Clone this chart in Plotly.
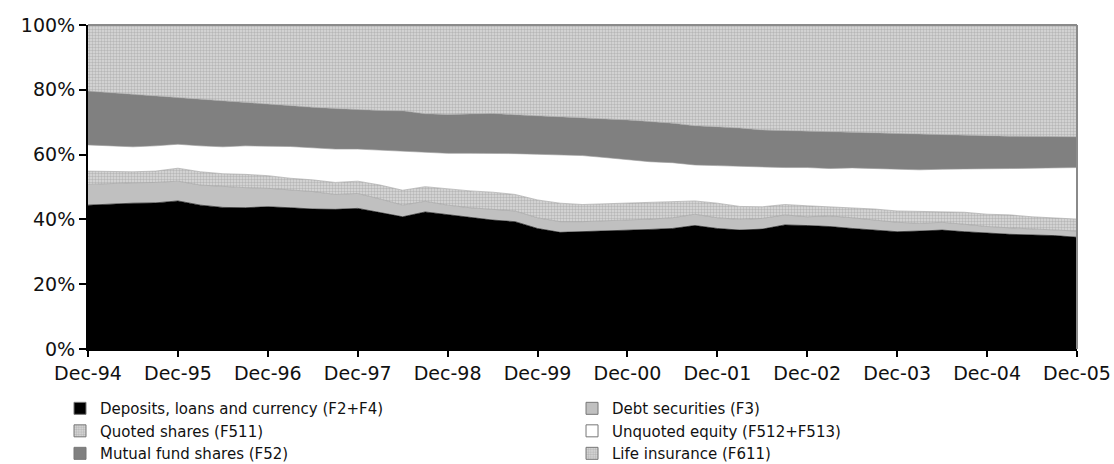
import plotly.graph_objects as go

# Quarterly observations, Dec-94 .. Dec-05
quarters = ["Dec-94"]
for yr in range(95, 106):
    for m in ["Mar", "Jun", "Sep", "Dec"]:
        quarters.append(f"{m}-{yr % 100:02d}")

tick_labels = ["Dec-94", "Dec-95", "Dec-96", "Dec-97", "Dec-98", "Dec-99",
               "Dec-00", "Dec-01", "Dec-02", "Dec-03", "Dec-04", "Dec-05"]
y_ticks = [0, 20, 40, 60, 80, 100]
y_tick_text = ["0%", "20%", "40%", "60%", "80%", "100%"]

deposits = [44.4, 44.8, 45.0, 45.1, 45.7, 44.4, 43.7, 43.6, 43.9, 43.6, 43.2, 43.1,
            43.4, 42.1, 40.8, 42.3, 41.4, 40.5, 39.8, 39.3, 37.2, 36.0, 36.2, 36.4,
            36.5, 36.9, 37.2, 38.1, 37.2, 36.7, 37.0, 38.3, 38.1, 37.8, 37.2, 36.7,
            36.2, 36.4, 36.7, 36.2, 35.7, 35.4, 35.2, 35.0, 34.5]
debt = [6.4, 6.3, 6.3, 6.3, 6.1, 6.2, 6.4, 6.2, 5.7, 5.4, 5.4, 4.6,
        4.6, 4.2, 3.6, 3.3, 3.0, 3.1, 3.4, 3.3, 3.3, 3.3, 3.1, 3.1,
        3.2, 3.2, 3.3, 3.5, 3.3, 3.3, 3.3, 3.1, 2.7, 3.3, 3.3, 3.1,
        2.9, 2.4, 2.4, 2.3, 2.1, 2.0, 1.8, 1.7, 1.9]
quoted = [4.1, 3.6, 3.4, 3.5, 4.0, 4.1, 4.0, 4.1, 3.9, 3.7, 3.6, 3.7,
          3.8, 4.3, 4.6, 4.5, 5.0, 5.2, 5.2, 5.1, 5.5, 5.7, 5.3, 5.3,
          5.4, 5.1, 4.8, 4.1, 4.5, 4.0, 3.6, 3.2, 3.4, 2.8, 3.1, 3.4,
          3.5, 3.6, 3.3, 3.7, 3.8, 4.0, 3.8, 3.8, 3.7]
unquoted = [8.1, 7.9, 7.7, 7.8, 7.4, 8.0, 8.3, 8.8, 9.2, 9.8, 9.9, 10.3,
            9.9, 10.8, 12.1, 10.5, 11.0, 11.6, 12.0, 12.6, 14.1, 14.9, 15.1, 14.3,
            13.3, 12.6, 12.2, 11.1, 11.6, 12.4, 12.1, 11.4, 11.8, 11.8, 12.3, 12.5,
            13.1, 12.9, 13.1, 13.3, 14.0, 14.3, 15.0, 15.4, 15.9]
mutual = [16.6, 16.5, 16.1, 15.2, 14.2, 14.3, 14.2, 13.4, 12.8, 12.6, 12.5, 12.5,
          12.1, 12.2, 12.4, 12.0, 12.0, 12.1, 12.3, 12.0, 11.9, 11.8, 11.7, 11.9,
          12.3, 12.4, 12.2, 12.1, 12.0, 11.8, 11.6, 11.4, 11.2, 11.4, 11.1, 10.9,
          10.8, 11.0, 10.5, 10.5, 10.2, 10.0, 9.9, 9.8, 9.5]
life = [20.4, 20.9, 21.5, 22.1, 22.6, 23.0, 23.4, 23.9, 24.5, 24.9, 25.4, 25.8,
        26.2, 26.4, 26.5, 27.4, 27.6, 27.5, 27.3, 27.7, 28.0, 28.3, 28.6, 29.0,
        29.3, 29.8, 30.3, 31.1, 31.4, 31.8, 32.4, 32.6, 32.8, 32.9, 33.0, 33.4,
        33.5, 33.7, 34.0, 34.0, 34.2, 34.3, 34.3, 34.3, 34.5]

names = ["Deposits, loans and currency (F2+F4)", "Debt securities (F3)",
         "Quoted shares (F511)", "Unquoted equity (F512+F513)",
         "Mutual fund shares (F52)", "Life insurance (F611)"]
series = [deposits, debt, quoted, unquoted, mutual, life]
colors = ["#000000", "#c0c0c0", "#d0d0d0", "#ffffff", "#808080", "#d0d0d0"]
patterned = [False, False, True, False, False, True]
dot_pattern = dict(shape=".", bgcolor="#dadada", fgcolor="#949494", size=3, solidity=0.5)

fig = go.Figure()
for name, vals, col, pat in zip(names, series, colors, patterned):
    kw = {}
    if pat:
        kw["fillpattern"] = dot_pattern
    fig.add_trace(go.Scatter(
        x=quarters, y=vals, name=name, mode="lines", stackgroup="one",
        groupnorm="percent" if name == names[0] else None,
        line=dict(width=0.6, color="#9a9a9a" if col != "#000000" else "#000000"),
        fillcolor=col, showlegend=False, **kw))

# legend entries (square swatches), two columns
legend_cols = {"legend": [0, 2, 4], "legend2": [1, 3, 5]}
for lg, idxs in legend_cols.items():
    for i in idxs:
        mk = dict(color=colors[i], line=dict(color="#777777", width=1))
        if patterned[i]:
            mk["pattern"] = dot_pattern
        fig.add_trace(go.Bar(x=[None], y=[None], name=names[i], marker=mk,
                             legend=lg, showlegend=True))

axis_font = dict(family="DejaVu Sans", size=19, color="#111111")
legend_font = dict(family="DejaVu Sans", size=15, color="#111111")

fig.update_layout(
    width=1114, height=464,
    margin=dict(l=88, r=37, t=25, b=115, autoexpand=False),
    plot_bgcolor="white", paper_bgcolor="white",
    font=axis_font,
    xaxis=dict(type="category", range=[0, 44], tickmode="array",
               tickvals=tick_labels, ticktext=tick_labels, tickangle=0,
               ticks="outside", ticklen=6, tickwidth=2, tickcolor="black",
               showline=True, linecolor="black", linewidth=2,
               showgrid=False, zeroline=False, tickfont=axis_font),
    yaxis=dict(range=[0, 100], tickmode="array", tickvals=y_ticks,
               ticktext=y_tick_text, ticks="outside", ticklen=7, tickwidth=2,
               tickcolor="black", showline=True, linecolor="black", linewidth=2,
               showgrid=False, zeroline=False, tickfont=axis_font),
    legend=dict(x=-0.0283, y=-0.133, xanchor="left", yanchor="top",
                font=legend_font, bgcolor="rgba(0,0,0,0)", traceorder="normal"),
    legend2=dict(x=0.4894, y=-0.133, xanchor="left", yanchor="top",
                 font=legend_font, bgcolor="rgba(0,0,0,0)", traceorder="normal"),
    showlegend=True,
)

# grey frame on top and right of plot area
fig.add_shape(type="line", xref="paper", yref="paper", x0=0, x1=1, y0=1, y1=1,
              line=dict(color="#8a8a8a", width=2))
fig.add_shape(type="line", xref="paper", yref="paper", x0=1, x1=1, y0=0, y1=1,
              line=dict(color="#8a8a8a", width=2))

fig.write_html("out.html", config={"displayModeBar": False},
               post_script="document.body.style.margin='0';"
                           "document.body.style.overflow='hidden';")
